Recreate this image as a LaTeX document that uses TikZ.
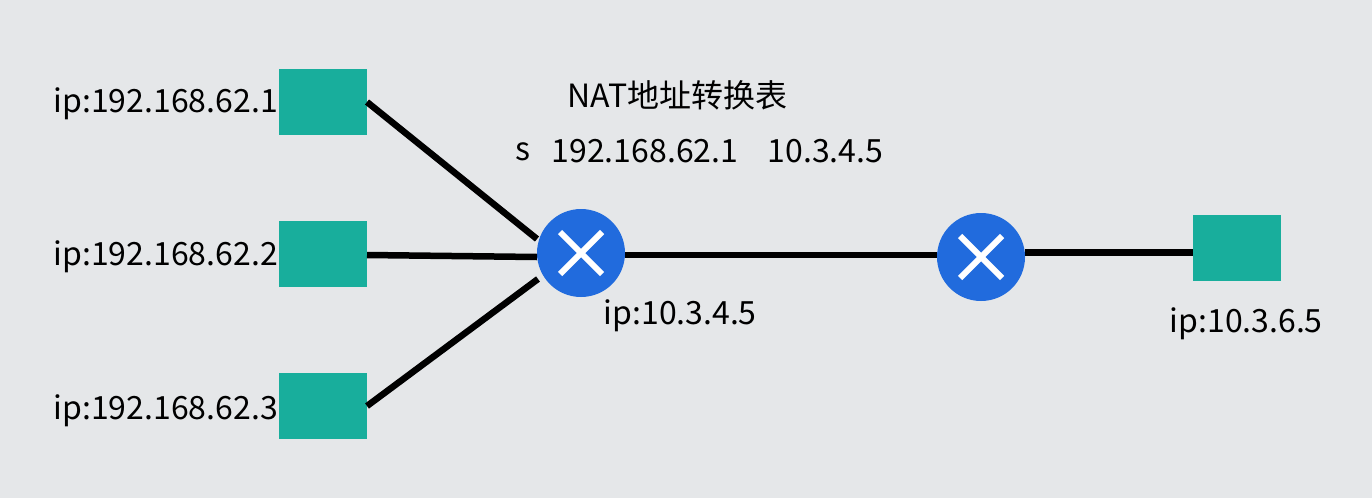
\documentclass[tikz,border=0pt]{standalone}
\usepackage{fontspec}
\setmainfont{Noto Sans CJK SC}
\definecolor{bgc}{HTML}{E5E7E9}
\definecolor{teal}{HTML}{18AE9C}
\definecolor{blu}{HTML}{216BDD}
\begin{document}
\begin{tikzpicture}[x=1pt,y=-1pt,
 hostbox/.style={fill=teal,minimum width=88pt,minimum height=66pt,inner sep=0pt},
 router/.style={circle,fill=blu,minimum size=88pt,inner sep=0pt},
 link/.style={line width=6.5pt,black},
 cross/.style={white,line width=6pt},
 lab/.style={font=\fontsize{32}{36}\selectfont,inner sep=0pt,text=black,anchor=west}]
\useasboundingbox (0,0) rectangle (1372,498);
\fill[bgc] (0,0) rectangle (1372,498);
\node[hostbox] (h1) at (323,102) {};
\node[hostbox] (h2) at (323,254) {};
\node[hostbox] (h3) at (323,406) {};
\node[hostbox] (h4) at (1237,248) {};
\node[router] (r1) at (581,253) {};
\node[router] (r2) at (981,257) {};
\draw[cross] (r1.center)+(-21,-21) -- +(21,21) (r1.center)+(-21,21) -- +(21,-21);
\draw[cross] (r2.center)+(-21,-21) -- +(21,21) (r2.center)+(-21,21) -- +(21,-21);
\coordinate (a1) at (367,102);
\coordinate (a3) at (367,406);
\coordinate (a2) at (367,255);
\coordinate (b1) at (537,239);
\coordinate (b2) at (537,257);
\coordinate (b3) at (538,279);
\coordinate (c1) at (625,255);
\coordinate (c2) at (937,255);
\coordinate (d1) at (1025,252.5);
\coordinate (d2) at (1193,252.5);
\draw[link] (a1) -- (b1);
\draw[link] (a2) -- (b2);
\draw[link] (a3) -- (b3);
\draw[link] (c1) -- (c2);
\draw[link] (d1) -- (d2);
\node[lab] (t1) at (53.5,104) {ip:192.168.62.1};
\node[lab] (t2) at (53.5,257) {ip:192.168.62.2};
\node[lab] (t3) at (53.5,411) {ip:192.168.62.3};
\node[lab] (t4) at (603.5,316) {ip:10.3.4.5};
\node[lab] (t5) at (1169.5,324) {ip:10.3.6.5};
\node[lab] (t6) at (567.5,95.5) {NAT地址转换表};
\node[lab] (t7) at (515.5,152) {s};
\node[lab] (t8) at (551.5,151) {192.168.62.1};
\node[lab] (t9) at (767.5,151) {10.3.4.5};
\end{tikzpicture}
\end{document}
